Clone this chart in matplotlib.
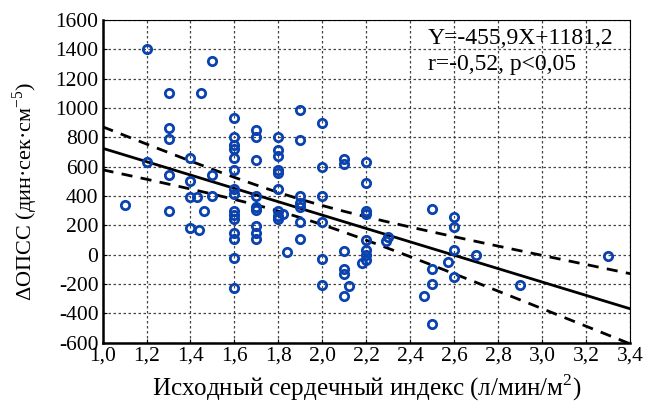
import numpy as np
import matplotlib
matplotlib.use("Agg")
from matplotlib import pyplot as plt

plt.rcParams['font.family'] = ['Liberation Serif', 'DejaVu Serif']
plt.rcParams['mathtext.fontset'] = 'custom'
plt.rcParams['mathtext.rm'] = 'Liberation Serif'
plt.rcParams['axes.unicode_minus'] = False

# исходный сердечный индекс
si = [1.1,
      1.2, 1.2,
      1.3, 1.3, 1.3, 1.3, 1.3,
      1.4, 1.4, 1.4, 1.4, 1.43, 1.44, 1.45, 1.46,
      1.5, 1.5, 1.5,
      1.6, 1.6, 1.6, 1.6, 1.6, 1.6, 1.6, 1.6, 1.6, 1.6, 1.6, 1.6, 1.6, 1.6, 1.6,
      1.7, 1.7, 1.7, 1.7, 1.7, 1.7, 1.7, 1.7, 1.7,
      1.8, 1.8, 1.8, 1.8, 1.8, 1.8, 1.8, 1.8, 1.8, 1.82, 1.84,
      1.9, 1.9, 1.9, 1.9, 1.9, 1.9, 1.9,
      2.0, 2.0, 2.0, 2.0, 2.0, 2.0,
      2.1, 2.1, 2.1, 2.1, 2.1, 2.1, 2.12,
      2.2, 2.2, 2.2, 2.2, 2.2, 2.2, 2.2, 2.2, 2.18,
      2.3, 2.29,
      2.46, 2.5, 2.5, 2.5, 2.5, 2.57, 2.6, 2.6, 2.6, 2.6, 2.7, 2.9, 3.3]
# изменение ОПСС
dopss = [340,
         1400, 630,
         1105, 865, 790, 545, 300,
         660, 500, 395, 180, 395, 170, 1105, 300,
         1320, 545, 400,
         930, 800, 750, 720, 660, 580, 445, 415, 300, 270, 245, 145, 105, -25, -225,
         850, 800, 645, 400, 325, 305, 195, 145, 105,
         800, 715, 675, 575, 555, 445, 300, 265, 240, 280, 20,
         985, 780, 400, 355, 325, 220, 105,
         900, 595, 400, 220, -30, -210,
         650, 620, 25, -100, -130, -280, -215,
         635, 490, 300, 275, 100, 30, 0, -35, -60,
         120, 95,
         -280, 310, -100, -200, -475, -50, 255, 190, 30, -155, 0, -210, -10]

slope = -455.9
intercept = 1181.2
eq_text = "Y=-455,9X+1181,2"
r_text = "r=-0,52, p<0,05"

xticks = [1.0, 1.2, 1.4, 1.6, 1.8, 2.0, 2.2, 2.4, 2.6, 2.8, 3.0, 3.2, 3.4]
yticks = list(range(-600, 1601, 200))

x = np.array(si)
y = np.array(dopss)
n = len(x)

# 95% доверительный интервал линии регрессии
xs = np.linspace(1.0, 3.4, 200)
fit = slope * xs + intercept
resid = y - (slope * x + intercept)
s = np.sqrt(np.sum(resid ** 2) / (n - 2))
sxx = np.sum((x - x.mean()) ** 2)
hw = 1.99 * s * np.sqrt(1.0 / n + (xs - x.mean()) ** 2 / sxx)

fig = plt.figure(figsize=(6.45, 4.07), dpi=100)
ax = fig.add_axes([0.159, 0.158, 0.818, 0.793])

ax.plot(xs, fit, color='black', lw=2)
ax.plot(xs, fit + hw, color='black', lw=2, ls=(0, (4, 3)))
ax.plot(xs, fit - hw, color='black', lw=2, ls=(0, (4, 3)))
ax.plot(x, y, 'o', ms=6, mfc='none', mec='#0a42b0', mew=2, zorder=3)

ax.set_xlim(1.0, 3.4)
ax.set_ylim(-600, 1600)
ax.set_xticks(xticks)
ax.set_xticklabels([("%.1f" % t).replace('.', ',') for t in xticks])
ax.set_yticks(yticks)
ax.set_yticklabels([str(t) for t in yticks])
ax.tick_params(direction='in', labelsize=15.5, length=3, pad=3)
ax.grid(True, ls=(0, (2, 2)), color='#444444', lw=0.9)

for side in ['left', 'bottom']:
    ax.spines[side].set_linewidth(1.8)
for side in ['top', 'right']:
    ax.spines[side].set_linewidth(0.8)

ax.set_xlabel("Исходный сердечный индекс (л/мин/м$^2$)", fontsize=18, labelpad=5)
ax.set_ylabel("ΔОПСС (дин·сек·см$^{-5}$)", fontsize=16)
ax.yaxis.set_label_coords(-0.118, 0.47)

ax.text(0.617, 0.944, eq_text, transform=ax.transAxes, ha='left', va='center', fontsize=17)
ax.text(0.617, 0.863, r_text, transform=ax.transAxes, ha='left', va='center', fontsize=17)

fig.savefig("out.png", dpi=100)
